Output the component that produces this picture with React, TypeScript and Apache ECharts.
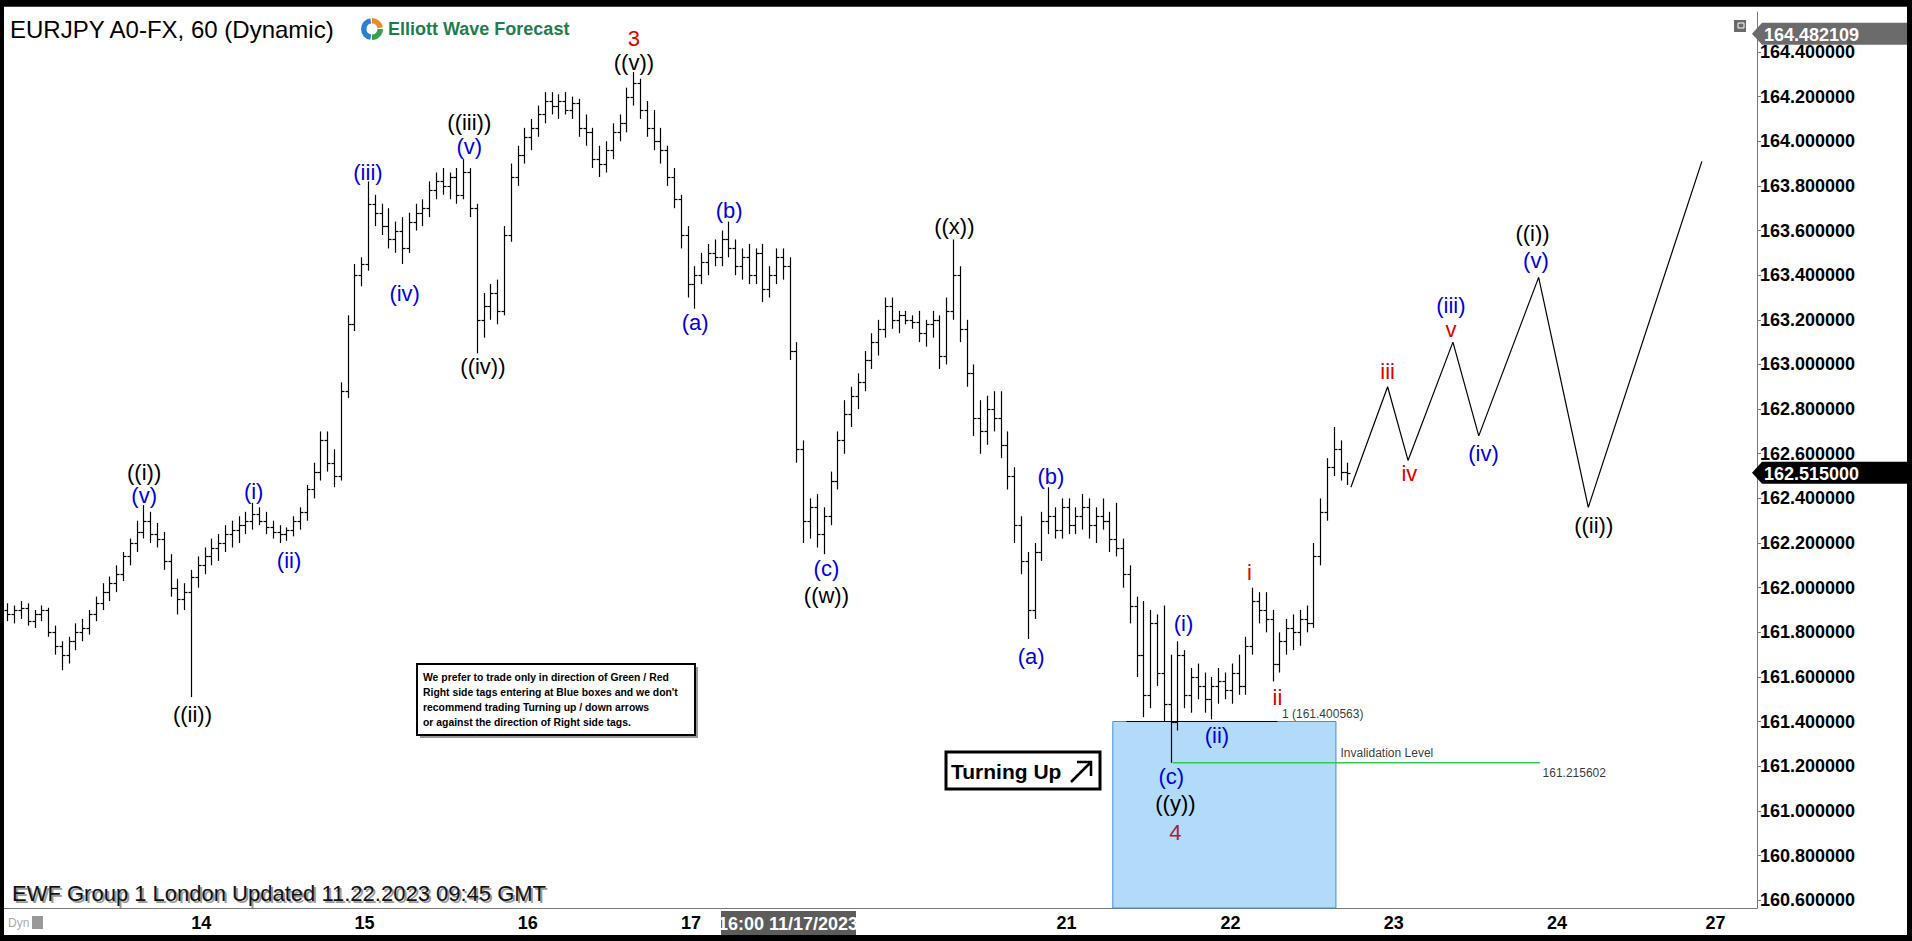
import React, { useEffect, useRef } from "react";
import * as echarts from "echarts";

// OHLC hourly bars [open, high, low, close], grouped by wave segment
const barsA: number[][] = [
  [161.90, 161.93, 161.85, 161.88], [161.88, 161.92, 161.84, 161.90], [161.90, 161.94, 161.86, 161.91],
  [161.91, 161.93, 161.83, 161.85], [161.85, 161.90, 161.82, 161.88], [161.88, 161.92, 161.85, 161.90],
  [161.90, 161.91, 161.78, 161.80], [161.80, 161.83, 161.70, 161.74], [161.74, 161.76, 161.63, 161.70],
  [161.70, 161.78, 161.66, 161.76], [161.76, 161.84, 161.72, 161.80], [161.80, 161.86, 161.76, 161.82],
  [161.82, 161.90, 161.79, 161.88], [161.88, 161.96, 161.85, 161.93], [161.93, 162.02, 161.90, 161.98],
  [161.98, 162.05, 161.94, 162.02], [162.02, 162.10, 161.98, 162.06], [162.06, 162.16, 162.03, 162.14],
  [162.14, 162.22, 162.10, 162.20], [162.20, 162.30, 162.16, 162.25], [162.25, 162.37, 162.22, 162.30],
  [162.30, 162.34, 162.20, 162.24], [162.24, 162.29, 162.18, 162.22], [162.22, 162.25, 162.08, 162.12],
  [162.12, 162.15, 161.96, 162.00], [162.00, 162.04, 161.88, 161.95], [161.95, 162.02, 161.90, 161.98],
  [161.98, 162.08, 161.51, 162.05],
];
const barsB: number[][] = [
  [162.05, 162.14, 162.00, 162.10], [162.10, 162.18, 162.06, 162.14], [162.14, 162.22, 162.10, 162.18],
  [162.18, 162.24, 162.12, 162.20], [162.20, 162.28, 162.16, 162.24], [162.24, 162.30, 162.18, 162.26],
  [162.26, 162.32, 162.20, 162.28], [162.28, 162.34, 162.24, 162.30], [162.30, 162.38, 162.26, 162.33],
  [162.33, 162.36, 162.28, 162.30], [162.30, 162.34, 162.24, 162.27], [162.27, 162.30, 162.22, 162.25],
  [162.25, 162.28, 162.20, 162.24], [162.24, 162.27, 162.21, 162.26], [162.26, 162.32, 162.23, 162.30],
  [162.30, 162.36, 162.26, 162.34], [162.34, 162.46, 162.30, 162.44], [162.44, 162.56, 162.40, 162.52],
  [162.52, 162.70, 162.48, 162.66], [162.66, 162.70, 162.52, 162.56], [162.56, 162.62, 162.45, 162.50],
  [162.50, 162.92, 162.48, 162.88], [162.88, 163.22, 162.85, 163.18], [163.18, 163.45, 163.15, 163.40],
  [163.40, 163.48, 163.35, 163.45], [163.45, 163.82, 163.42, 163.72],
];
const barsC: number[][] = [
  [163.72, 163.76, 163.62, 163.68], [163.68, 163.72, 163.58, 163.62], [163.62, 163.70, 163.52, 163.56],
  [163.56, 163.64, 163.50, 163.60], [163.60, 163.66, 163.45, 163.52], [163.52, 163.68, 163.50, 163.64],
  [163.64, 163.72, 163.60, 163.68], [163.68, 163.74, 163.62, 163.70], [163.70, 163.82, 163.66, 163.78],
  [163.78, 163.86, 163.74, 163.82], [163.82, 163.88, 163.76, 163.80], [163.80, 163.86, 163.74, 163.84],
  [163.84, 163.88, 163.72, 163.76], [163.76, 163.92, 163.74, 163.86], [163.86, 163.88, 163.66, 163.70],
  [163.70, 163.72, 163.05, 163.20], [163.20, 163.32, 163.12, 163.26], [163.26, 163.36, 163.20, 163.32],
  [163.32, 163.38, 163.18, 163.24], [163.24, 163.62, 163.22, 163.58], [163.58, 163.90, 163.55, 163.84],
  [163.84, 163.98, 163.80, 163.94], [163.94, 164.06, 163.90, 164.02], [164.02, 164.10, 163.96, 164.06],
  [164.06, 164.16, 164.02, 164.12], [164.12, 164.22, 164.08, 164.18],
];
const barsD: number[][] = [
  [164.18, 164.22, 164.12, 164.16], [164.16, 164.21, 164.10, 164.18], [164.18, 164.22, 164.12, 164.14],
  [164.14, 164.20, 164.10, 164.17], [164.17, 164.19, 164.02, 164.06], [164.06, 164.12, 163.98, 164.04],
  [164.04, 164.06, 163.88, 163.92], [163.92, 163.98, 163.84, 163.90], [163.90, 164.00, 163.86, 163.96],
  [163.96, 164.08, 163.92, 164.04], [164.04, 164.12, 164.00, 164.08], [164.08, 164.24, 164.04, 164.20],
  [164.20, 164.31, 164.16, 164.26], [164.26, 164.28, 164.10, 164.14], [164.14, 164.18, 164.02, 164.06],
  [164.06, 164.14, 163.96, 164.00], [164.00, 164.06, 163.90, 163.96], [163.96, 163.98, 163.80, 163.84],
  [163.84, 163.88, 163.70, 163.74], [163.74, 163.76, 163.52, 163.58], [163.58, 163.62, 163.30, 163.36],
  [163.36, 163.44, 163.25, 163.40], [163.40, 163.50, 163.36, 163.46], [163.46, 163.54, 163.40, 163.50],
  [163.50, 163.56, 163.44, 163.48], [163.48, 163.60, 163.44, 163.56],
];
const barsE: number[][] = [
  [163.56, 163.64, 163.48, 163.52], [163.52, 163.56, 163.40, 163.44], [163.44, 163.52, 163.38, 163.48],
  [163.48, 163.54, 163.36, 163.40], [163.40, 163.52, 163.36, 163.50], [163.50, 163.54, 163.28, 163.34],
  [163.34, 163.44, 163.30, 163.40], [163.40, 163.52, 163.36, 163.48], [163.48, 163.52, 163.38, 163.44],
  [163.44, 163.48, 163.02, 163.06], [163.06, 163.10, 162.56, 162.62], [162.62, 162.66, 162.20, 162.30],
  [162.30, 162.40, 162.22, 162.36], [162.36, 162.42, 162.18, 162.24], [162.24, 162.36, 162.15, 162.32],
  [162.32, 162.52, 162.28, 162.48], [162.48, 162.70, 162.44, 162.66], [162.66, 162.84, 162.60, 162.78],
  [162.78, 162.90, 162.72, 162.86], [162.86, 162.96, 162.80, 162.92], [162.92, 163.06, 162.88, 163.02],
  [163.02, 163.14, 162.98, 163.10], [163.10, 163.20, 163.04, 163.16], [163.16, 163.30, 163.12, 163.26],
  [163.26, 163.30, 163.16, 163.20], [163.20, 163.24, 163.14, 163.22],
];
const barsF: number[][] = [
  [163.22, 163.24, 163.18, 163.20], [163.20, 163.22, 163.16, 163.19], [163.19, 163.24, 163.10, 163.14],
  [163.14, 163.20, 163.08, 163.18], [163.18, 163.24, 163.12, 163.20], [163.20, 163.22, 162.98, 163.04],
  [163.04, 163.30, 163.00, 163.24], [163.24, 163.56, 163.20, 163.40], [163.40, 163.44, 163.10, 163.16],
  [163.16, 163.20, 162.90, 162.96], [162.96, 163.00, 162.68, 162.76], [162.76, 162.84, 162.60, 162.70],
  [162.70, 162.86, 162.64, 162.80], [162.80, 162.88, 162.70, 162.76], [162.76, 162.88, 162.58, 162.64],
  [162.64, 162.70, 162.44, 162.50], [162.50, 162.54, 162.20, 162.28], [162.28, 162.32, 162.06, 162.12],
  [162.12, 162.16, 161.77, 161.90], [161.90, 162.20, 161.86, 162.16], [162.16, 162.34, 162.12, 162.30],
  [162.30, 162.45, 162.24, 162.32], [162.32, 162.36, 162.22, 162.26], [162.26, 162.40, 162.22, 162.36],
  [162.36, 162.40, 162.24, 162.28], [162.28, 162.36, 162.24, 162.32],
];
const barsG: number[][] = [
  [162.32, 162.42, 162.26, 162.36], [162.36, 162.40, 162.22, 162.28], [162.28, 162.36, 162.20, 162.32],
  [162.32, 162.40, 162.26, 162.30], [162.30, 162.34, 162.16, 162.22], [162.22, 162.38, 162.14, 162.18],
  [162.18, 162.22, 162.00, 162.06], [162.06, 162.10, 161.84, 161.92], [161.92, 161.96, 161.60, 161.70],
  [161.70, 161.94, 161.42, 161.52], [161.52, 161.90, 161.46, 161.84], [161.84, 161.88, 161.56, 161.62],
  [161.62, 161.92, 161.40, 161.48], [161.48, 161.70, 161.215602, 161.40], [161.40, 161.76, 161.36, 161.70],
  [161.70, 161.72, 161.46, 161.52], [161.52, 161.64, 161.44, 161.60], [161.60, 161.66, 161.50, 161.56],
  [161.56, 161.62, 161.44, 161.50], [161.50, 161.60, 161.41, 161.56], [161.56, 161.64, 161.48, 161.58],
  [161.58, 161.62, 161.50, 161.54], [161.54, 161.66, 161.48, 161.62], [161.62, 161.70, 161.52, 161.56],
  [161.56, 161.78, 161.52, 161.74], [161.74, 162.00, 161.70, 161.94],
];
const barsH: number[][] = [
  [161.94, 161.98, 161.84, 161.90], [161.90, 161.98, 161.80, 161.86], [161.86, 161.90, 161.58, 161.66],
  [161.66, 161.80, 161.62, 161.76], [161.76, 161.86, 161.70, 161.82], [161.82, 161.88, 161.72, 161.80],
  [161.80, 161.90, 161.74, 161.86], [161.86, 161.92, 161.80, 161.84], [161.84, 162.20, 161.82, 162.14],
  [162.14, 162.40, 162.10, 162.34], [162.34, 162.58, 162.30, 162.54], [162.54, 162.72, 162.50, 162.62],
  [162.62, 162.66, 162.48, 162.52], [162.52, 162.56, 162.46, 162.515],
];

// Projected path (bar index, price)
const projX = [197.5, 202.9, 205.9, 212.5, 216.3, 225.1, 232.4, 249.1];
const projY = [162.45, 162.9, 162.57, 163.1, 162.68, 163.39, 162.36, 163.91];

// Wave labels
const waveText = ["3", "((v))", "((iii))", "(v)", "(iii)", "(iv)", "((iv))", "((i))", "(v)", "(i)", "(ii)", "((ii))",
  "(a)", "(b)", "(c)", "((w))", "((x))", "(a)", "(b)", "(i)", "(ii)", "(c)", "((y))", "4",
  "i", "ii", "iii", "iv", "(iii)", "v", "(iv)", "((i))", "(v)", "((ii))"];
const waveX = [92.1, 92.1, 67.9, 67.9, 53.0, 58.4, 69.9, 20.1, 20.1, 36.2, 41.4, 27.2,
  101.1, 106.1, 120.4, 120.4, 139.2, 150.5, 153.4, 172.9, 177.8, 171.1, 171.7, 171.7,
  182.6, 186.7, 202.9, 206.1, 212.2, 212.2, 217.0, 224.2, 224.7, 233.2];
const waveY = [164.462, 164.355, 164.085, 163.975, 163.86, 163.32, 162.99, 162.515, 162.415, 162.43, 162.12, 161.43,
  163.19, 163.69, 162.085, 161.965, 163.62, 161.69, 162.5, 161.84, 161.34, 161.155, 161.035, 160.905,
  162.07, 161.51, 162.97, 162.51, 163.265, 163.155, 162.6, 163.585, 163.465, 162.28];
const waveKind = ["R", "K", "K", "B", "B", "B", "K", "K", "B", "B", "B", "K",
  "B", "B", "B", "K", "K", "B", "B", "B", "B", "B", "K", "C",
  "R", "R", "R", "R", "B", "R", "B", "K", "B", "K"];

// Levels
const fibLevel = 161.400563;
const fibX = [164.5, 186.7];
const invLevel = 161.215602;
const invX = [171.3, 225.3];
const boxX = [162.5, 195.3];
const highTag = 164.482109;
const lastPrice = 162.515;

// Axes
const yMin = 160.565;
const yMax = 164.579;
const yTicks = [160.6, 160.8, 161.0, 161.2, 161.4, 161.6, 161.8, 162.0, 162.2, 162.4, 162.6, 162.8, 163.0, 163.2, 163.4, 163.6, 163.8, 164.0, 164.2, 164.4];
const dayLabels = ["14", "15", "16", "17", "21", "22", "23", "24", "27"];
const dayPos = [28.5, 52.5, 76.5, 100.5, 155.7, 179.8, 203.8, 227.8, 251.1];

const FONT = '"Liberation Sans", Arial, sans-serif';
const COLORS: Record<string, string> = { R: "#e00000", K: "#000000", B: "#0000e0", C: "#a8203f" };

const bars = [...barsA, ...barsB, ...barsC, ...barsD, ...barsE, ...barsF, ...barsG, ...barsH];

function txt(text: string, x: number, y: number, font: string, fill: string, align = "left", z = 10) {
  return {
    type: "text", x, y, z, silent: true,
    style: { text, font, fill, align, textAlign: align, verticalAlign: "middle", textVerticalAlign: "middle" },
  };
}

function buildOption() {
  return {
    animation: false,
    backgroundColor: "#ffffff",
    grid: { left: 4, right: 155, top: 12, bottom: 33, containLabel: false },
    xAxis: {
      type: "value", min: -0.5, max: 257.2,
      axisLine: { show: true, onZero: false, lineStyle: { color: "#777", width: 1 } },
      axisTick: { show: false },
      splitLine: { show: false },
      axisLabel: {
        customValues: dayPos,
        formatter: (v: number) => {
          let k = 0; let best = 1e9;
          dayPos.forEach((p, i) => { if (Math.abs(p - v) < best) { best = Math.abs(p - v); k = i; } });
          return dayLabels[k];
        },
        color: "#000", fontWeight: "bold", fontSize: 18, fontFamily: FONT, margin: 6,
      },
    },
    yAxis: {
      type: "value", position: "right", min: yMin, max: yMax, scale: true,
      axisLine: { show: true, onZero: false, lineStyle: { color: "#777", width: 1 } },
      axisTick: { show: true, customValues: yTicks, length: 4, lineStyle: { color: "#777" } },
      splitLine: { show: false },
      axisLabel: {
        customValues: yTicks,
        formatter: (v: number) => v.toFixed(6),
        color: "#000", fontWeight: "bold", fontSize: 18, fontFamily: FONT, margin: 3,
      },
    },
    series: [
      {
        type: "line", z: 1, data: [], silent: true,
        markArea: {
          silent: true,
          itemStyle: { color: "#b2dbfa", borderColor: "#3f8fd8", borderWidth: 1 },
          data: [[{ coord: [boxX[0], fibLevel] }, { coord: [boxX[1], yMin] }]],
        },
      },
      {
        type: "line", z: 2, silent: true, symbol: "none",
        lineStyle: { color: "#000", width: 1.2 },
        data: [[fibX[0], fibLevel], [fibX[1], fibLevel]],
      },
      {
        type: "line", z: 2, silent: true, symbol: "none",
        lineStyle: { color: "#2ecc55", width: 1.5 },
        data: [[invX[0], invLevel], [invX[1], invLevel]],
      },
      {
        type: "custom", z: 3, silent: true,
        data: bars.map((b, i) => [i, b[0], b[1], b[2], b[3]]),
        encode: { x: 0, y: [1, 2, 3, 4] },
        renderItem: (_p: any, api: any) => {
          const x = api.value(0);
          const pO = api.coord([x, api.value(1)]);
          const pH = api.coord([x, api.value(2)]);
          const pL = api.coord([x, api.value(3)]);
          const pC = api.coord([x, api.value(4)]);
          const cx = Math.round(pO[0]) + 0.5;
          const yo = Math.round(pO[1]) + 0.5;
          const yc = Math.round(pC[1]) + 0.5;
          const style = { stroke: "#000", lineWidth: 1.2 };
          return {
            type: "group",
            children: [
              { type: "line", shape: { x1: cx, y1: pH[1], x2: cx, y2: pL[1] }, style },
              { type: "line", shape: { x1: cx - 3, y1: yo, x2: cx, y2: yo }, style },
              { type: "line", shape: { x1: cx, y1: yc, x2: cx + 3, y2: yc }, style },
            ],
          };
        },
      },
      {
        type: "line", z: 3, silent: true, symbol: "none",
        lineStyle: { color: "#000", width: 1.2 },
        data: projX.map((x, i) => [x, projY[i]]),
      },
      {
        type: "scatter", z: 4, silent: true, symbolSize: 1, itemStyle: { color: "rgba(0,0,0,0)" },
        data: waveText.map((t, i) => ({
          name: t, value: [waveX[i], waveY[i]],
          label: { color: COLORS[waveKind[i]] },
        })),
        label: {
          show: true, position: "inside", formatter: "{b}",
          fontSize: 22, fontFamily: FONT, lineHeight: 21,
          textBorderWidth: 0, textBorderColor: "transparent", opacity: 1,
        },
      },
      {
        type: "scatter", z: 4, silent: true, symbolSize: 1, itemStyle: { color: "rgba(0,0,0,0)" },
        data: [
          { name: "1 (161.400563)", value: [187.3, 161.432] },
          { name: "Invalidation Level", value: [195.9, 161.258] },
          { name: "161.215602", value: [225.6, 161.17] },
        ],
        label: {
          show: true, position: "right", distance: 0, formatter: "{b}",
          fontSize: 12, fontFamily: FONT, color: "#000",
          textBorderWidth: 0, textBorderColor: "transparent",
        },
      },
    ],
  };
}

function buildGraphic(yp: (v: number) => number) {
  const els: any[] = [];
  // title
  els.push(txt("EURJPY A0-FX, 60 (Dynamic)", 10, 29, `24px ${FONT}`, "#000"));
  // logo
  const lx = 372, ly = 29;
  els.push({ type: "sector", silent: true, z: 10, shape: { cx: lx, cy: ly, r: 11, r0: 5.5, startAngle: Math.PI * 0.55, endAngle: Math.PI * 1.45 }, style: { fill: "#2a7fd0" } });
  els.push({ type: "sector", silent: true, z: 10, shape: { cx: lx, cy: ly, r: 11, r0: 5.5, startAngle: Math.PI * 1.5, endAngle: Math.PI * 1.95 }, style: { fill: "#f08a24" } });
  els.push({ type: "sector", silent: true, z: 10, shape: { cx: lx, cy: ly, r: 11, r0: 5.5, startAngle: 0, endAngle: Math.PI * 0.5 }, style: { fill: "#3aa04a" } });
  els.push(txt("Elliott Wave Forecast", 388, 29, `bold 18px ${FONT}`, "#1f7d4e"));
  // top right icon
  els.push({ type: "rect", silent: true, z: 10, shape: { x: 1734, y: 20, width: 12, height: 12 }, style: { fill: "#6a6a6a" } });
  els.push({ type: "rect", silent: true, z: 11, shape: { x: 1738, y: 23, width: 6, height: 5 }, style: { fill: "none", stroke: "#fff", lineWidth: 1 } });
  // disclaimer box
  els.push({ type: "rect", silent: true, z: 10, shape: { x: 420, y: 667, width: 278, height: 71 }, style: { fill: "#9a9a9a" } });
  els.push({ type: "rect", silent: true, z: 11, shape: { x: 417, y: 664, width: 278, height: 71 }, style: { fill: "#fff", stroke: "#000", lineWidth: 2 } });
  const lines = [
    "We prefer to trade only in direction of Green / Red",
    "Right side tags entering at Blue boxes and we don't",
    "recommend trading Turning up / down arrows",
    "or against the direction of Right side tags.",
  ];
  lines.forEach((l, i) => els.push(txt(l, 423, 677 + i * 15, `bold 10.4px ${FONT}`, "#000", "left", 12)));
  // Turning Up box
  els.push({ type: "rect", silent: true, z: 10, shape: { x: 946, y: 752, width: 154, height: 37 }, style: { fill: "#fff", stroke: "#000", lineWidth: 3 } });
  els.push(txt("Turning Up", 951, 771, `bold 21px ${FONT}`, "#000", "left", 11));
  els.push({ type: "line", silent: true, z: 11, shape: { x1: 1071, y1: 782, x2: 1090, y2: 763 }, style: { stroke: "#000", lineWidth: 2.5 } });
  els.push({ type: "polyline", silent: true, z: 11, shape: { points: [[1077, 762], [1091, 762], [1091, 776]] }, style: { stroke: "#000", lineWidth: 2.5, fill: "none" } });
  // bottom-left update text
  els.push(txt("EWF Group 1 London Updated 11.22.2023 09:45 GMT", 14, 895, `22px ${FONT}`, "#9a9a9a", "left", 10));
  els.push(txt("EWF Group 1 London Updated 11.22.2023 09:45 GMT", 12, 893, `22px ${FONT}`, "#111", "left", 11));
  els.push(txt("Dyn", 8, 923, `12px ${FONT}`, "#aaa", "left", 10));
  els.push({ type: "rect", silent: true, z: 10, shape: { x: 32, y: 916, width: 11, height: 13 }, style: { fill: "#999" } });
  // crosshair time box
  els.push({ type: "rect", silent: true, z: 12, shape: { x: 721, y: 911, width: 135, height: 25 }, style: { fill: "#5c5c5c" } });
  els.push(txt("16:00 11/17/2023", 788, 924, `bold 18px ${FONT}`, "#fff", "center", 13));
  // price tags
  const tag = (price: number, fill: string) => {
    const y = yp(price);
    els.push({ type: "polygon", silent: true, z: 12, shape: { points: [[1752, y], [1762, y - 11], [1907, y - 11], [1907, y + 11], [1762, y + 11]] }, style: { fill } });
    els.push(txt(price.toFixed(6), 1764, y + 1, `bold 18px ${FONT}`, "#fff", "left", 13));
  };
  tag(highTag, "#6b6b6b");
  tag(lastPrice, "#000");
  // outer frame
  els.push({ type: "rect", silent: true, z: 20, shape: { x: 0, y: 0, width: 1912, height: 6 }, style: { fill: "#000" } });
  els.push({ type: "rect", silent: true, z: 20, shape: { x: 0, y: 0, width: 4, height: 941 }, style: { fill: "#000" } });
  els.push({ type: "rect", silent: true, z: 20, shape: { x: 1907, y: 0, width: 5, height: 941 }, style: { fill: "#000" } });
  els.push({ type: "rect", silent: true, z: 20, shape: { x: 0, y: 935, width: 1912, height: 6 }, style: { fill: "#000" } });
  els.push({ type: "line", silent: true, z: 20, shape: { x1: 4, y1: 6.5, x2: 1907, y2: 6.5 }, style: { stroke: "#444", lineWidth: 1 } });
  return els;
}

export default function App() {
  const ref = useRef<HTMLDivElement>(null);
  useEffect(() => {
    if (!ref.current) return;
    const chart = echarts.init(ref.current, null, { renderer: "svg" });
    chart.setOption(buildOption() as any);
    const yp = (v: number) => chart.convertToPixel({ yAxisIndex: 0 } as any, v) as unknown as number;
    chart.setOption({ graphic: { elements: buildGraphic(yp) } } as any);
    return () => chart.dispose();
  }, []);
  return (
    <div
      ref={ref}
      style={{ position: "fixed", left: 0, top: 0, width: 1912, height: 941, background: "#000" }}
    />
  );
}
